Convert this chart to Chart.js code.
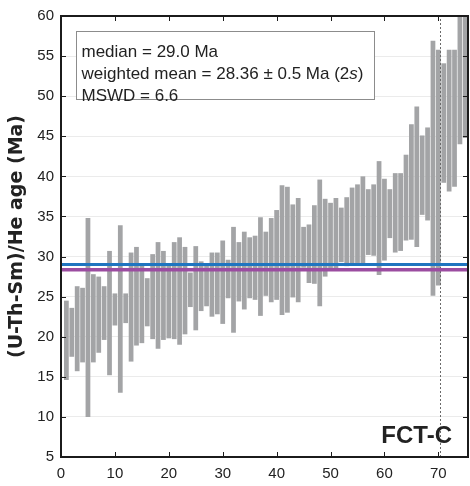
<!DOCTYPE html>
<html>
<head>
<meta charset="utf-8">
<title>FCT-C (U-Th-Sm)/He ages</title>
<script src="https://cdn.jsdelivr.net/npm/chart.js@4.4.1/dist/chart.umd.min.js"></script>
<style>
  html, body { margin: 0; padding: 0; background: #fff; }
  #wrap { width: 470px; height: 486px; }
</style>
</head>
<body>
<div id="wrap"><canvas id="ages" width="470" height="486"></canvas></div>
<script>
'use strict';

// Grain rank (sorted by age) and the 2s age range of each grain, in Ma
var RANKS = [
   1,  2,  3,  4,  5,  6,  7,  8,  9, 10, 11, 12, 13, 14, 15,
  16, 17, 18, 19, 20, 21, 22, 23, 24, 25, 26, 27, 28, 29, 30,
  31, 32, 33, 34, 35, 36, 37, 38, 39, 40, 41, 42, 43, 44, 45,
  46, 47, 48, 49, 50, 51, 52, 53, 54, 55, 56, 57, 58, 59, 60,
  61, 62, 63, 64, 65, 66, 67, 68, 69, 70, 71, 72, 73, 74, 75
];
var AGE_LOW = [
  14.6, 17.5, 15.7, 16.8, 10.0, 16.8, 18.0, 19.6, 15.2, 21.4, 13.0, 21.7, 16.9, 18.9, 19.2,
  21.3, 19.7, 18.5, 19.6, 19.8, 19.7, 19.0, 20.3, 23.7, 20.8, 23.2, 23.8, 22.5, 22.8, 21.6,
  24.8, 20.5, 24.4, 23.4, 24.8, 24.6, 22.6, 25.1, 24.3, 24.6, 22.7, 23.0, 24.9, 24.3, 28.6,
  26.7, 26.6, 23.8, 27.5, 28.5, 28.2, 29.3, 28.8, 29.0, 29.2, 29.0, 30.2, 30.1, 27.7, 29.5,
  32.3, 30.5, 30.7, 32.0, 32.1, 31.2, 35.2, 34.5, 25.1, 26.4, 39.2, 38.1, 38.7, 44.0, 44.8
];
var AGE_HIGH = [
  24.5, 23.6, 26.3, 26.1, 34.8, 27.8, 27.5, 26.3, 30.7, 25.4, 33.9, 25.4, 30.5, 31.2, 28.9,
  27.3, 30.3, 31.8, 30.7, 29.0, 31.8, 32.4, 31.2, 28.0, 31.3, 29.4, 29.0, 30.5, 30.5, 32.0,
  29.6, 33.7, 31.8, 33.1, 32.4, 32.6, 34.9, 33.1, 34.8, 35.8, 38.9, 38.7, 36.5, 37.3, 33.7,
  34.0, 36.4, 39.6, 37.2, 36.7, 37.3, 36.1, 37.4, 38.6, 39.0, 40.0, 38.4, 39.0, 41.9, 39.7,
  38.4, 40.4, 40.4, 42.7, 46.5, 48.7, 45.1, 46.1, 56.9, 55.8, 54.1, 55.8, 55.8, 61.0, 61.0
];

var MEDIAN_AGE = 29.0;
var WEIGHTED_MEAN = 28.36;
var DIVIDER_RANK = 70.4;

var X_RANGE = [0, 75.5];
var Y_RANGE = [5, 60];
var X_TICKS = [0, 10, 20, 30, 40, 50, 60, 70];
var Y_TICKS = [5, 10, 15, 20, 25, 30, 35, 40, 45, 50, 55, 60];

var Y_TITLE = '(U-Th-Sm)/He age (Ma)';
var SAMPLE = 'FCT-C';
// each line is a list of [text, italic] runs
var STATS = [
  [['median = 29.0 Ma', false]],
  [['weighted mean = 28.36 \u00b1 0.5 Ma (2', false], ['s', true], [')', false]],
  [['MSWD = 6.6', false]]
];

var COLORS = {
  grain:  '#a3a4a6',
  median: '#1f75c0',
  wmean:  '#9b4ca0',
  frame:  '#1b1b1b',
  text:   '#222222',
  grid:   '#ebebeb'
};

var SANS = '"Liberation Sans", Arial, sans-serif';
Chart.defaults.font.family = SANS;
Chart.defaults.color = COLORS.text;

function hline(y) {
  return [{ x: X_RANGE[0], y: y }, { x: X_RANGE[1], y: y }];
}

// frame with inward ticks, stats box and sample label
var framePlugin = {
  id: 'frame',
  afterDatasetsDraw: function (chart) {
    var ctx = chart.ctx, a = chart.chartArea;
    var xs = chart.scales.x, ys = chart.scales.y;
    ctx.save();
    ctx.strokeStyle = COLORS.frame;
    ctx.lineWidth = 1;
    ctx.beginPath();
    X_TICKS.forEach(function (v) {
      if (v <= X_RANGE[0]) return;
      var px = Math.round(xs.getPixelForValue(v)) + 0.5;
      ctx.moveTo(px, a.top); ctx.lineTo(px, a.top + 5);
      ctx.moveTo(px, a.bottom); ctx.lineTo(px, a.bottom - 5);
    });
    Y_TICKS.forEach(function (v) {
      if (v <= Y_RANGE[0] || v >= Y_RANGE[1]) return;
      var py = Math.round(ys.getPixelForValue(v)) + 0.5;
      ctx.moveTo(a.left, py); ctx.lineTo(a.left + 5, py);
      ctx.moveTo(a.right, py); ctx.lineTo(a.right - 5, py);
    });
    ctx.stroke();
    ctx.lineWidth = 2;
    ctx.strokeRect(a.left, a.top, a.right - a.left, a.bottom - a.top);
    ctx.restore();
  },
  afterDraw: function (chart) {
    var ctx = chart.ctx, a = chart.chartArea;
    ctx.save();
    // stats box
    var bx = a.left + 15.5, by = a.top + 15.5;
    ctx.fillStyle = '#fff';
    ctx.fillRect(bx, by, 298, 68);
    ctx.strokeStyle = '#8c8c8c';
    ctx.lineWidth = 1;
    ctx.strokeRect(bx, by, 298, 68);
    ctx.fillStyle = COLORS.text;
    ctx.textBaseline = 'alphabetic';
    STATS.forEach(function (runs, i) {
      var x = bx + 5, y = by + 25 + i * 22;
      runs.forEach(function (r) {
        ctx.font = (r[1] ? 'italic ' : '') + '17px ' + SANS;
        ctx.fillText(r[0], x, y);
        x += ctx.measureText(r[0]).width;
      });
    });
    // sample label
    ctx.font = 'bold 24px ' + SANS;
    ctx.textAlign = 'right';
    ctx.fillText(SAMPLE, a.right - 16, a.bottom - 14);
    ctx.restore();
  }
};

var grains = RANKS.map(function (r, i) {
  return { x: r, y: [AGE_LOW[i], AGE_HIGH[i]] };
});

new Chart(document.getElementById('ages'), {
  type: 'bar',
  data: {
    datasets: [
      { type: 'line', data: hline(WEIGHTED_MEAN), borderColor: COLORS.wmean, borderWidth: 3.5,
        pointRadius: 0, order: 1 },
      { type: 'line', data: hline(MEDIAN_AGE), borderColor: COLORS.median, borderWidth: 3,
        pointRadius: 0, order: 2 },
      { type: 'line', data: [{ x: DIVIDER_RANK, y: Y_RANGE[0] }, { x: DIVIDER_RANK, y: Y_RANGE[1] }],
        borderColor: '#6a6a6a', borderWidth: 1, borderDash: [2, 2], pointRadius: 0, order: 3 },
      { type: 'bar', data: grains, backgroundColor: COLORS.grain, borderWidth: 0,
        barPercentage: 0.88, categoryPercentage: 1, order: 10 }
    ]
  },
  options: {
    responsive: false,
    animation: false,
    layout: { padding: { top: 7, right: 2, left: 0, bottom: 0 } },
    plugins: { legend: { display: false }, tooltip: { enabled: false } },
    scales: {
      x: {
        type: 'linear', min: X_RANGE[0], max: X_RANGE[1], offset: false,
        afterBuildTicks: function (s) {
          s.ticks = X_TICKS.map(function (v) { return { value: v }; });
        },
        afterFit: function (s) { s.height = 29; },
        ticks: { font: { size: 15 }, padding: 8, color: COLORS.text },
        grid: { display: false, drawTicks: false, offset: false },
        border: { display: false }
      },
      y: {
        min: Y_RANGE[0], max: Y_RANGE[1],
        afterBuildTicks: function (s) {
          s.ticks = Y_TICKS.map(function (v) { return { value: v }; });
        },
        afterFit: function (s) { s.width = 61; },
        ticks: { font: { size: 15 }, padding: 7, color: COLORS.text },
        grid: { color: COLORS.grid, lineWidth: 1, drawTicks: false },
        border: { display: false },
        title: {
          display: true, text: Y_TITLE, color: COLORS.text,
          font: { family: '"DejaVu Sans", sans-serif', size: 19, weight: 'bold' },
          padding: { top: 6, bottom: 0 }
        }
      }
    }
  },
  plugins: [framePlugin]
});
</script>
</body>
</html>
